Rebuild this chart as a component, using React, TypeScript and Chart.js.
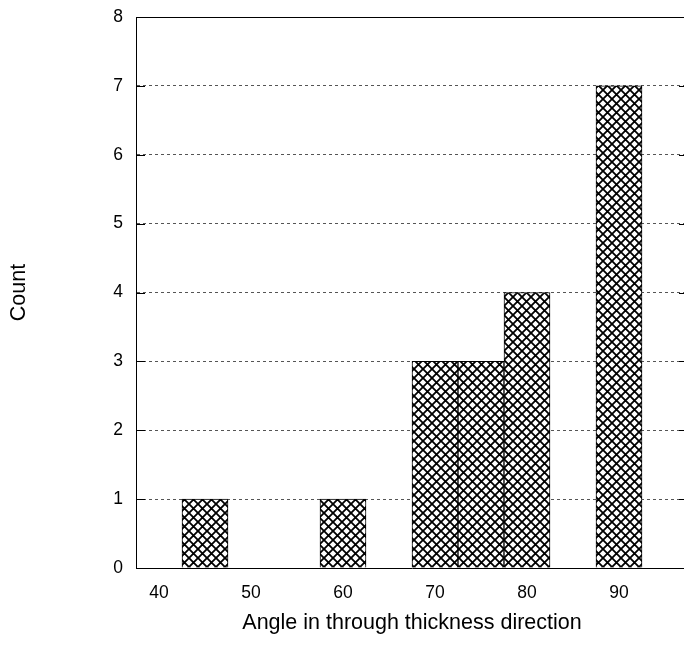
import React, { useEffect, useRef } from "react";
import { Chart, registerables } from "chart.js";

Chart.register(...registerables);

// Histogram bins (bin centres, width 5)
const binCenters = ["40", "45", "50", "55", "60", "65", "70", "75", "80", "85", "90", "95"];
const counts = [0, 1, 0, 0, 1, 0, 3, 3, 4, 0, 7, 0];
const xTickLabels = ["40", "50", "60", "70", "80", "90"];
const yTicks = [0, 1, 2, 3, 4, 5, 6, 7, 8];

const FONT = "Arial, 'Liberation Sans', Helvetica, sans-serif";

function makePattern(): CanvasPattern | string {
  const s = 9;
  const c = document.createElement("canvas");
  c.width = s;
  c.height = s;
  const g = c.getContext("2d");
  if (!g) return "#fff";
  g.fillStyle = "#fff";
  g.fillRect(0, 0, s, s);
  g.strokeStyle = "#000";
  g.lineWidth = 1.8;
  g.beginPath();
  g.moveTo(-1, -1);
  g.lineTo(s + 1, s + 1);
  g.moveTo(s + 1, -1);
  g.lineTo(-1, s + 1);
  g.stroke();
  const p = g.createPattern(c, "repeat");
  return p || "#fff";
}

const framePlugin = {
  id: "frame",
  afterDatasetsDraw(chart: any) {
    const { ctx, chartArea } = chart;
    const y = chart.scales.y;
    ctx.save();
    ctx.strokeStyle = "#000";
    ctx.lineWidth = 1;
    // top border
    ctx.beginPath();
    ctx.moveTo(chartArea.left, Math.round(chartArea.top) + 0.5);
    ctx.lineTo(chartArea.right, Math.round(chartArea.top) + 0.5);
    ctx.stroke();
    // inward ticks on left and right
    for (const v of yTicks) {
      const py = Math.round(y.getPixelForValue(v)) + 0.5;
      ctx.beginPath();
      ctx.moveTo(chartArea.left, py);
      ctx.lineTo(chartArea.left + 9, py);
      ctx.moveTo(chartArea.right - 9, py);
      ctx.lineTo(chartArea.right, py);
      ctx.stroke();
    }
    ctx.restore();
  },
};

export default function App() {
  const ref = useRef<HTMLCanvasElement | null>(null);

  useEffect(() => {
    document.body.style.margin = "0";
    document.body.style.overflow = "hidden";
    const canvas = ref.current;
    if (!canvas) return;
    const chart = new Chart(canvas, {
      type: "bar",
      data: {
        labels: binCenters,
        datasets: [
          {
            data: counts,
            backgroundColor: makePattern() as any,
            borderColor: "#000",
            borderWidth: 1,
            barPercentage: 1,
            categoryPercentage: 1,
          },
        ],
      },
      options: {
        animation: false,
        responsive: false,
        maintainAspectRatio: false,
        layout: { padding: { top: 17, right: 0, left: 0, bottom: 0 } },
        plugins: {
          legend: { display: false },
          tooltip: { enabled: false },
          title: { display: false },
        },
        scales: {
          x: {
            type: "category",
            grid: { display: false, drawTicks: false },
            border: { display: true, color: "#000", width: 1 },
            ticks: {
              autoSkip: false,
              maxRotation: 0,
              padding: 15,
              color: "#000",
              font: { family: FONT, size: 17.5 },
              callback: (_v: any, i: number) =>
                xTickLabels.includes(binCenters[i]) ? binCenters[i] : "",
            },
            title: {
              display: true,
              text: "Angle in through thickness direction",
              color: "#000",
              font: { family: FONT, size: 21.5 },
              padding: { top: 0, bottom: 28 },
            },
            afterFit: (s: any) => {
              s.height = 96;
              s.paddingLeft = 0;
              s.paddingRight = 0;
            },
          },
          y: {
            min: 0,
            max: 8,
            grid: { color: "#555", drawTicks: false, lineWidth: 1 },
            border: { display: true, color: "#000", width: 1, dash: [3, 3] },
            ticks: {
              stepSize: 1,
              padding: 13,
              color: "#000",
              font: { family: FONT, size: 17.5 },
            },
            title: {
              display: true,
              text: "Count",
              color: "#000",
              font: { family: FONT, size: 21.5 },
              padding: { top: 6, bottom: 0 },
            },
            afterFit: (s: any) => {
              s.width = 136;
              s.paddingTop = 0;
              s.paddingBottom = 0;
            },
          },
        },
      },
      plugins: [framePlugin],
    });
    return () => chart.destroy();
  }, []);

  return (
    <div style={{ width: 688, height: 664 }}>
      <canvas ref={ref} width={688} height={664} style={{ display: "block", width: 688, height: 664 }} />
    </div>
  );
}
